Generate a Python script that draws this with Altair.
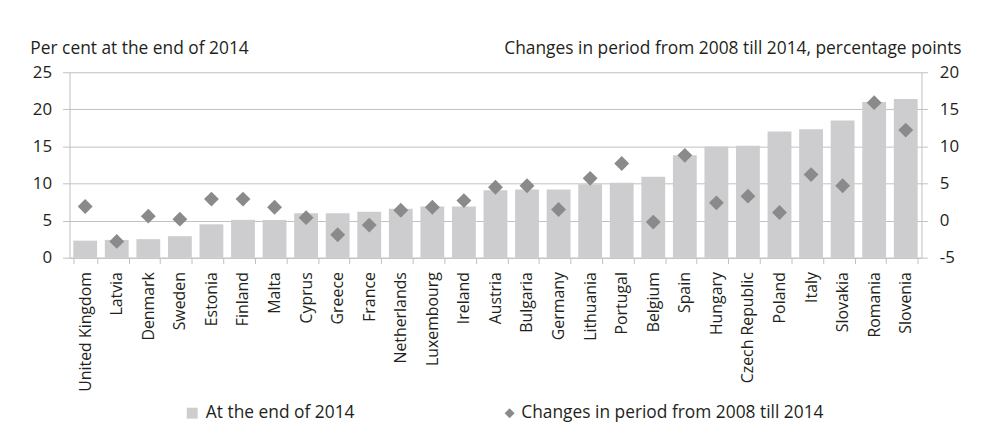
import altair as alt
import pandas as pd

countries = ["United Kingdom", "Latvia", "Denmark", "Sweden", "Estonia", "Finland",
             "Malta", "Cyprus", "Greece", "France", "Netherlands", "Luxembourg",
             "Ireland", "Austria", "Bulgaria", "Germany", "Lithuania", "Portugal",
             "Belgium", "Spain", "Hungary", "Czech Republic", "Poland", "Italy",
             "Slovakia", "Romania", "Slovenia"]
totals = [2.3, 2.4, 2.5, 2.9, 4.5, 5.1, 5.1, 6.0, 6.0, 6.2, 6.6, 6.9, 6.9, 9.1,
          9.2, 9.2, 9.9, 10.1, 10.9, 13.8, 15.0, 15.1, 17.0, 17.3, 18.5, 21.0, 21.4]
changes = [1.9, -2.8, 0.6, 0.2, 2.9, 2.9, 1.8, 0.4, -1.9, -0.6, 1.4, 1.8, 2.7, 4.5,
           4.7, 1.5, 5.7, 7.7, -0.2, 8.8, 2.4, 3.3, 1.1, 6.2, 4.7, 15.9, 12.2]
left_ticks = [0, 5, 10, 15, 20, 25]
right_ticks = [-5, 0, 5, 10, 15, 20]
bar_label = "At the end of 2014"
pt_label = "Changes in period from 2008 till 2014"
left_title = "Per cent at the end of 2014"
right_title = "Changes in period from 2008 till 2014, percentage points"

df = pd.DataFrame({"country": countries, "total": totals, "change": changes,
                   "s1": bar_label, "s2": pt_label})

FONT = "Open Sans"
TXT = "#231f20"
GRID = "#c0c0c0"
BAR = "#cdcdcf"
PT = "#8a8a8a"
FS_X = 16
FS_T = 17.5
FS_TICK = 17

x = alt.X("country:N", sort=None, title=None,
          scale=alt.Scale(paddingInner=0.245, paddingOuter=0.12),
          axis=alt.Axis(labelAngle=-90, labelAlign="right", labelBaseline="middle",
                        tickBand="extent", tickSize=6, labelPadding=8,
                        domainColor=GRID, tickColor=GRID, labelFontSize=FS_X,
                        labelColor=TXT, labelFont=FONT, labelLimit=0))

bars = alt.Chart(df).mark_bar(color=BAR).encode(
    x=x,
    y=alt.Y("total:Q", scale=alt.Scale(domain=[0, 25], nice=False),
            axis=alt.Axis(values=left_ticks, title=left_title, titleAngle=0,
                          titleAlign="left", titleBaseline="alphabetic",
                          titleX=-40, titleY=-19, titleFont=FONT, titleFontSize=FS_T,
                          titleFontWeight="normal", titleColor=TXT, titleLimit=0,
                          grid=True, gridColor=GRID, domainColor=GRID,
                          tickColor=GRID, tickSize=7, labelPadding=11,
                          labelExpr="'' + datum.value",
                          labelFont=FONT, labelFontSize=FS_TICK, labelColor=TXT)),
    color=alt.Color("s1:N", scale=alt.Scale(range=[BAR]),
                    legend=alt.Legend(title=None, orient="none", legendX=115, legendY=335,
                                      symbolType="square", symbolSize=121, labelOffset=5,
                                      labelFont=FONT, labelFontSize=FS_T, labelColor=TXT,
                                      labelLimit=0, padding=0, symbolStrokeWidth=0)),
)

points = alt.Chart(df).mark_point(filled=True, size=225, color=PT, opacity=1).encode(
    x=x,
    y=alt.Y("change:Q", scale=alt.Scale(domain=[-5, 20], nice=False),
            axis=alt.Axis(orient="right", values=right_ticks, title=right_title,
                          titleAngle=0, titleAlign="right", titleBaseline="alphabetic",
                          titleX=40, titleY=-19, titleFont=FONT, titleFontSize=FS_T,
                          titleFontWeight="normal", titleColor=TXT, titleLimit=0,
                          grid=False, domainColor=GRID, tickColor=GRID, tickSize=6,
                          labelPadding=12, labelFont=FONT, labelFontSize=FS_TICK,
                          labelExpr="'' + datum.value",
                          labelColor=TXT)),
    shape=alt.Shape("s2:N", scale=alt.Scale(range=["diamond"]),
                    legend=alt.Legend(title=None, orient="none", legendX=435, legendY=335,
                                      symbolSize=100, symbolFillColor=PT,
                                      symbolStrokeWidth=0, labelOffset=3,
                                      labelFont=FONT, labelFontSize=FS_T, labelColor=TXT,
                                      labelLimit=0, padding=0)),
)

chart = alt.layer(bars, points).resolve_scale(y="independent").properties(
    width=859, height=187,
    padding={"left": 62, "top": 63, "right": 54, "bottom": 180},
    autosize=alt.AutoSizeParams(type="none"),
).configure_view(stroke=None)

chart.save("out.html", embed_options={"renderer": "svg", "actions": False})
